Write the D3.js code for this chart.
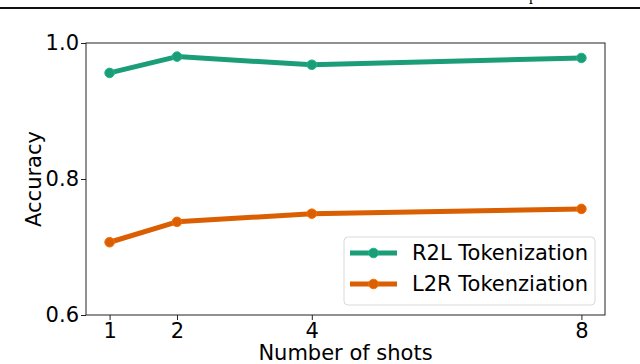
<!DOCTYPE html>
<html>
<head>
<meta charset="utf-8">
<script src="https://cdn.jsdelivr.net/npm/d3@7"></script>
<style>
  body { margin: 0; background: #fff; }
  svg { display: block; font-family: "DejaVu Sans", sans-serif; }
</style>
</head>
<body>
<div id="chart"></div>
<script>
// data
var shots = [1, 2, 4, 8];
var r2l = [0.956, 0.980, 0.968, 0.978];
var l2r = [0.707, 0.737, 0.749, 0.756];
var seriesNames = ["R2L Tokenization", "L2R Tokenziation"];
var seriesColors = ["#1b9e77", "#d95f02"];
var yTicks = [0.6, 0.8, 1.0];

var W = 640, H = 364;
var margin = {top: 43, right: 35, bottom: 49, left: 86};
var width = W - margin.left - margin.right;
var height = H - margin.top - margin.bottom;
var fs = "21px";

var svg = d3.select("#chart").append("svg")
    .attr("width", W)
    .attr("height", H);

// rule and cut-off text from the page above the figure
svg.append("line")
    .attr("x1", 0).attr("x2", W)
    .attr("y1", 8).attr("y2", 8)
    .attr("stroke", "#111")
    .attr("stroke-width", 2);
svg.append("text")
    .attr("x", 529).attr("y", 0)
    .style("font-family", "Liberation Serif, serif")
    .style("font-size", "16px")
    .text("p");

var g = svg.append("g")
    .attr("transform", "translate(" + margin.left + "," + margin.top + ")");

var x = d3.scaleLinear().domain([0.65, 8.35]).range([0, width]);
var y = d3.scaleLinear().domain([0.6, 1.0]).range([height, 0]);

// axes
var xAxis = d3.axisBottom(x).tickValues(shots).tickSize(5).tickPadding(3).tickFormat(d3.format("d"));
var yAxis = d3.axisLeft(y).tickValues(yTicks).tickSize(5).tickPadding(2).tickFormat(d3.format(".1f"));

g.append("g")
    .attr("transform", "translate(0," + height + ")")
    .call(xAxis)
    .call(function(s) { s.select(".domain").remove(); });
g.append("g")
    .call(yAxis)
    .call(function(s) { s.select(".domain").remove(); });

g.selectAll(".tick line").attr("stroke", "#222").attr("stroke-width", 1);
g.selectAll(".tick text")
    .attr("fill", "#000")
    .style("font-family", "DejaVu Sans, sans-serif")
    .style("font-size", fs);

// frame
g.append("rect")
    .attr("x", 0).attr("y", 0)
    .attr("width", width).attr("height", height)
    .attr("fill", "none")
    .attr("stroke", "#222")
    .attr("stroke-width", 1);

// series
var series = [r2l, l2r];
var line = d3.line()
    .x(function(d, i) { return x(shots[i]); })
    .y(function(d) { return y(d); });

series.forEach(function(vals, k) {
  g.append("path")
      .datum(vals)
      .attr("d", line)
      .attr("fill", "none")
      .attr("stroke", seriesColors[k])
      .attr("stroke-width", 5)
      .attr("stroke-linejoin", "round");
  g.selectAll(".pt" + k)
      .data(vals)
    .enter().append("circle")
      .attr("cx", function(d, i) { return x(shots[i]); })
      .attr("cy", function(d) { return y(d); })
      .attr("r", 4.8)
      .attr("fill", seriesColors[k])
      .attr("stroke", d3.color(seriesColors[k]).brighter(0.4))
      .attr("stroke-width", 1);
});

// axis labels
g.append("text")
    .attr("x", width / 2)
    .attr("y", height + 45)
    .attr("text-anchor", "middle")
    .style("font-size", fs)
    .text("Number of shots");
g.append("text")
    .attr("transform", "translate(" + (-45) + "," + (height / 2) + ") rotate(-90)")
    .attr("text-anchor", "middle")
    .style("font-size", fs)
    .text("Accuracy");

// legend
var lg = g.append("g")
    .attr("transform", "translate(" + (344 - margin.left) + "," + (237 - margin.top) + ")");
lg.append("rect")
    .attr("width", 251).attr("height", 68)
    .attr("rx", 4)
    .attr("fill", "#fff")
    .attr("fill-opacity", 0.8)
    .attr("stroke", "#d9d9d9")
    .attr("stroke-width", 1);

seriesNames.forEach(function(name, k) {
  var yy = 16 + k * 31;
  lg.append("line")
      .attr("x1", 6).attr("x2", 53)
      .attr("y1", yy).attr("y2", yy)
      .attr("stroke", seriesColors[k])
      .attr("stroke-width", 5);
  lg.append("circle")
      .attr("cx", 29.5).attr("cy", yy)
      .attr("r", 4.8)
      .attr("fill", seriesColors[k])
      .attr("stroke", d3.color(seriesColors[k]).brighter(0.4))
      .attr("stroke-width", 1);
  lg.append("text")
      .attr("x", 68).attr("y", yy)
      .attr("dy", "0.35em")
      .style("font-size", fs)
      .text(name);
});
</script>
</body>
</html>
